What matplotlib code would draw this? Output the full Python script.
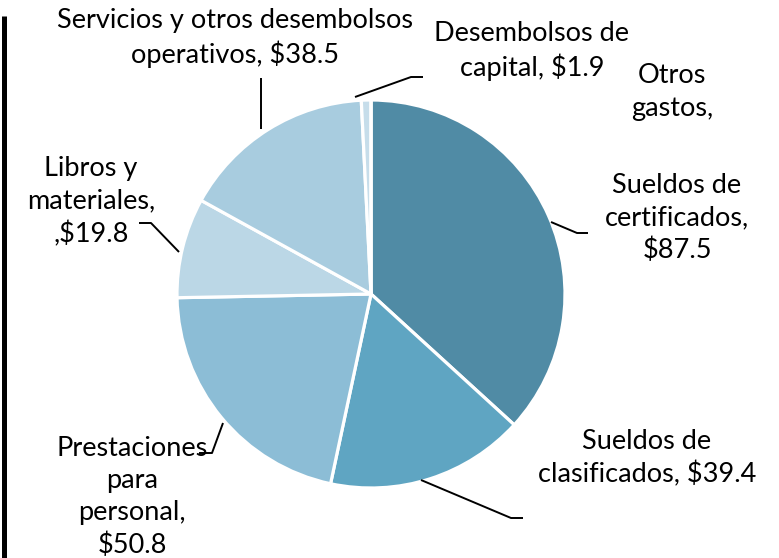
import matplotlib
matplotlib.use("Agg")
import matplotlib.pyplot as plt

# data
categories = ["Sueldos de certificados", "Sueldos de clasificados", "Prestaciones para personal",
              "Libros y materiales", "Servicios y otros desembolsos operativos",
              "Desembolsos de capital", "Otros gastos"]
values = [87.5, 39.4, 50.8, 19.8, 38.5, 1.9, 0.0]
label_texts = ["Sueldos de\ncertificados,\n$87.5",
               "Sueldos de\nclasificados, $39.4",
               "Prestaciones\npara\npersonal,\n$50.8",
               "Libros y\nmateriales,\n,$19.8",
               "Servicios y otros desembolsos\noperativos, $38.5",
               "Desembolsos de\ncapital, $1.9",
               "Otros\ngastos,"]
colors = ["#508BA5", "#5FA5C2", "#8CBDD6", "#BBD7E6", "#A8CCDF", "#C6DDEA", "#D5E6F0"]

W, H = 779, 558
fig = plt.figure(figsize=(W / 100, H / 100), dpi=100)
ax = fig.add_axes([0, 0, 1, 1])

cx, cy, r = 371, H - 294, 194
ax.pie(values, colors=colors, startangle=90, counterclock=False, center=(cx, cy), radius=r,
       wedgeprops=dict(edgecolor="white", linewidth=2.3), frame=True)
ax.set_xlim(0, W)
ax.set_ylim(0, H)
ax.set_aspect("equal")
ax.axis("off")

# label positions (image pixel coords, centre of text block)
label_pos = [(677, 218), (647, 458), (132, 497), (91, 202), (235, 38), (532, 51), (672, 92)]
for txt, (x, y) in zip(label_texts, label_pos):
    ax.text(x, H - y, txt, ha="center", va="center", fontsize=19.5, family="Lato",
            linespacing=1.36, color="black")

# leader lines
leaders = [
    [(551, 222), (577, 233), (588, 233)],
    [(421, 480), (511, 518), (523, 518)],
    [(223, 423), (212, 453), (199, 453)],
    [(179, 252), (151, 223), (139, 223)],
    [(261, 129), (261, 78)],
    [(355, 97), (411, 77), (423, 77)],
]
for pts in leaders:
    xs = [p[0] for p in pts]
    ys = [H - p[1] for p in pts]
    ax.plot(xs, ys, color="black", linewidth=1.4, solid_capstyle="butt")

# left border line
ax.plot([4.5, 4.5], [0, H - 16], color="black", linewidth=3.6, solid_capstyle="butt")

fig.savefig("out.png", dpi=100)
